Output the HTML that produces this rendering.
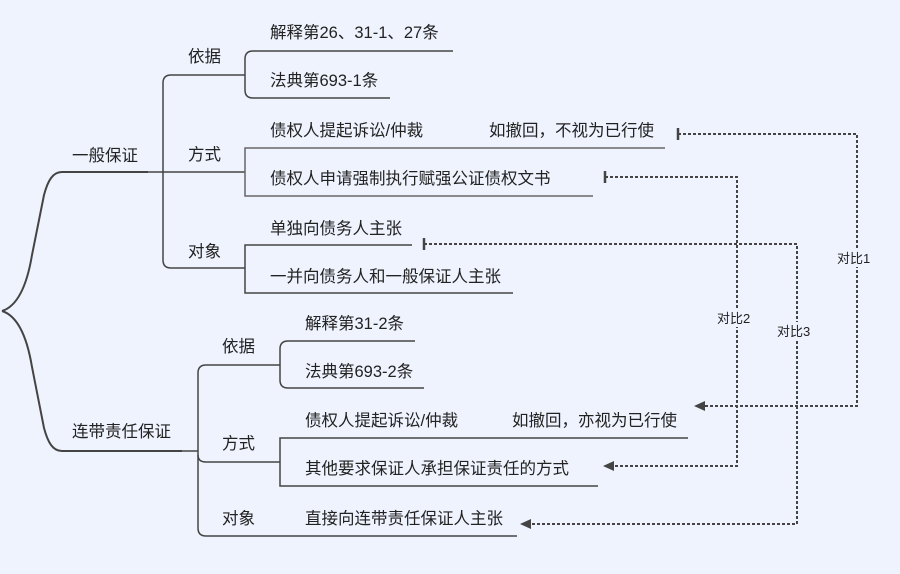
<!DOCTYPE html>
<html><head><meta charset="utf-8"><style>
html,body{margin:0;padding:0;background:#eef3fe;}
svg{display:block}
text{font-family:"Liberation Sans","Noto Sans CJK SC",sans-serif;font-size:16.5px;fill:#222;}
.s{font-size:13px;}
</style></head><body>
<svg width="900" height="574" viewBox="0 0 900 574" xmlns="http://www.w3.org/2000/svg">
<rect width="900" height="574" fill="#eef3fe"/>
<g fill="none" stroke="#444" stroke-width="1.5">
<path d="M2,311 C18,306 27,285 32,255 L44,195 C48,180 53,172 62,172 L148,172" stroke-width="2"/>
<path d="M2,311 C18,316 27,337 32,367 L44,428 C48,443 53,451 62,451 L182,451" stroke-width="2"/>
<path d="M148,172 L245,172"/>
<path d="M245,75 L171,75 Q163,75 163,83 L163,260 Q163,268 171,268 L245,268"/>
<path d="M453,51 L253,51 Q245,51 245,59 L245,90 Q245,98 253,98 L390,98"/>
<path d="M665,148 L245,148 L245,196 L593,196" stroke="#666"/>
<path d="M412,245 L245,245 L245,293 L513,293"/>
<path d="M182,451 L198,451"/>
<path d="M280,365 L206,365 Q198,365 198,373 L198,528 Q198,536 206,536 L517,536"/>
<path d="M198,455 Q198,462 206,462 L280,462"/>
<path d="M415,341 L288,341 Q280,341 280,349 L280,380 Q280,388 288,388 L424,388"/>
<path d="M688,438 L280,438 L280,486 L598,486"/>
</g>
<g fill="none" stroke="#444" stroke-width="2" stroke-dasharray="3,2">
<path d="M678,134 L857,134 L857,406 L705,406"/>
<path d="M605,177 L737,177 L737,466 L612,466"/>
<path d="M424,244 L797,244 L797,524 L530,524"/>
</g>
<g stroke="#444" stroke-width="2.5">
<line x1="678" y1="128" x2="678" y2="140"/>
<line x1="605" y1="171" x2="605" y2="183"/>
<line x1="424" y1="238" x2="424" y2="250"/>
</g>
<g fill="#444">
<path d="M694,406 L705,401 L705,411 Z"/>
<path d="M603,466 L614,461 L614,471 Z"/>
<path d="M520,524 L531,519 L531,529 Z"/>
</g>
<rect x="836" y="249" width="42" height="18" fill="#eef3fe"/>
<rect x="716" y="309" width="42" height="18" fill="#eef3fe"/>
<rect x="776" y="322" width="42" height="18" fill="#eef3fe"/>
<text class="s" x="837" y="263">对比1</text>
<text class="s" x="717" y="323">对比2</text>
<text class="s" x="777" y="336">对比3</text>
<text x="72" y="161">一般保证</text>
<text x="188" y="62">依据</text>
<text x="188" y="160">方式</text>
<text x="188" y="257">对象</text>
<text x="270" y="38">解释第26、31-1、27条</text>
<text x="270" y="86">法典第693-1条</text>
<text x="270" y="136">债权人提起诉讼/仲裁</text>
<text x="489" y="136">如撤回，不视为已行使</text>
<text x="270" y="184">债权人申请强制执行赋强公证债权文书</text>
<text x="270" y="234">单独向债务人主张</text>
<text x="270" y="282">一并向债务人和一般保证人主张</text>
<text x="72" y="437">连带责任保证</text>
<text x="222" y="352">依据</text>
<text x="222" y="449">方式</text>
<text x="222" y="524">对象</text>
<text x="305" y="329">解释第31-2条</text>
<text x="305" y="377">法典第693-2条</text>
<text x="305" y="426">债权人提起诉讼/仲裁</text>
<text x="512" y="426">如撤回，亦视为已行使</text>
<text x="305" y="474">其他要求保证人承担保证责任的方式</text>
<text x="305" y="524">直接向连带责任保证人主张</text>
</svg>
</body></html>
